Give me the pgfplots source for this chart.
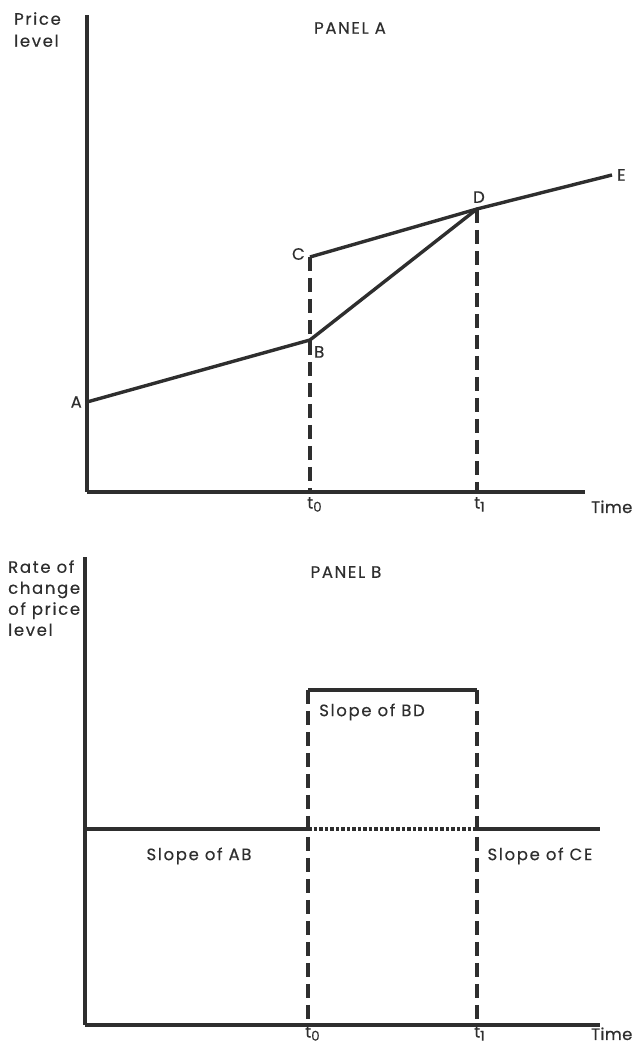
\documentclass[border=0pt]{standalone}
\usepackage{fontspec}
\setmainfont{Poppins}[LetterSpace=10, FakeBold=0.4]
\usepackage{pgfplots}
\pgfplotsset{compat=1.18}
\definecolor{ink}{HTML}{2E2E2E}
\newcommand{\tsub}[1]{t\raisebox{-0.35ex}{\fontsize{13.5}{14}\selectfont #1}}
\pgfplotsset{
  panel/.style={
    x=1pt, y=1pt, anchor=south west,
    axis x line=bottom, axis y line=left,
    axis line style={line width=3.2pt, -, ink},
    ytick=\empty, major tick length=0pt,
    clip=false,
    xticklabel style={font=\fontsize{16.5}{18}\selectfont, text=ink, inner sep=1pt, anchor=north west, xshift=-4pt},
  },
  solidl/.style={ink, line width=3.4pt, line cap=butt, line join=miter},
  dashl/.style={ink, line width=3.2pt, dash pattern=on 14pt off 7pt},
  dotl/.style={ink, line width=3.2pt, dash pattern=on 3.5pt off 2pt},
}
\begin{document}
\fontsize{16.5}{20}\selectfont
\begin{tikzpicture}
\useasboundingbox (0,0) rectangle (634pt,1044pt);
% ---------------- PANEL A ----------------
\begin{axis}[panel, at={(87pt,552pt)},
  xmin=87, xmax=585, ymin=552, ymax=1029,
  xtick={310,477}, xticklabels={\tsub{0},\tsub{1}},
  xticklabel style={yshift=-4pt}]
\addplot[solidl] coordinates {(87,642) (310,704) (477,835) (612,869)};
\addplot[solidl] coordinates {(310,787) (477,835)};
\addplot[dashl] coordinates {(310,787) (310,552)};
\addplot[dashl] coordinates {(477,835) (477,552)};
\node[text=ink, anchor=east, inner sep=2pt] at (axis cs:84,642) {A};
\node[text=ink, anchor=north west, inner sep=1pt] at (axis cs:313,699) {B};
\node[text=ink, anchor=east, inner sep=2pt] at (axis cs:307,790) {C};
\node[text=ink, anchor=south, inner sep=2pt] at (axis cs:479,839) {D};
\node[text=ink, anchor=west, inner sep=1pt] at (axis cs:616,869) {E};
\node[text=ink] at (axis cs:350,1016) {PANEL A};
\node[text=ink, anchor=north west, align=left, inner sep=0pt,
      font=\fontsize{16.5}{22}\selectfont] at (axis cs:14,1032) {Price\\level};
\node[text=ink, anchor=base west, inner sep=0pt] at (axis cs:591,531) {\addfontfeature{LetterSpace=2}Time};
\end{axis}
% ---------------- PANEL B ----------------
\begin{axis}[panel, at={(85pt,19pt)},
  xmin=85, xmax=600, ymin=19, ymax=487,
  xtick={308,477}, xticklabels={\tsub{0},\tsub{1}},
  xticklabel style={yshift=0pt}]
\addplot[solidl] coordinates {(85,215) (308,215)};
\addplot[dotl] coordinates {(308,215) (477,215)};
\addplot[solidl] coordinates {(477,215) (600,215)};
\addplot[solidl] coordinates {(308,354) (477,354)};
\addplot[dashl] coordinates {(308,354) (308,19)};
\addplot[dashl] coordinates {(477,354) (477,19)};
\node[text=ink] at (axis cs:372,332) {Slope of BD};
\node[text=ink] at (axis cs:199,188) {Slope of AB};
\node[text=ink] at (axis cs:540,188) {Slope of CE};
\node[text=ink] at (axis cs:346,472) {PANEL B};
\node[text=ink, anchor=north west, align=left, inner sep=0pt,
      font=\fontsize{16.5}{21}\selectfont] at (axis cs:8,484) {Rate of\\change\\of price\\level};
\node[text=ink, anchor=base west, inner sep=0pt] at (axis cs:591,4) {\addfontfeature{LetterSpace=2}Time};
\end{axis}
\end{tikzpicture}
\end{document}
